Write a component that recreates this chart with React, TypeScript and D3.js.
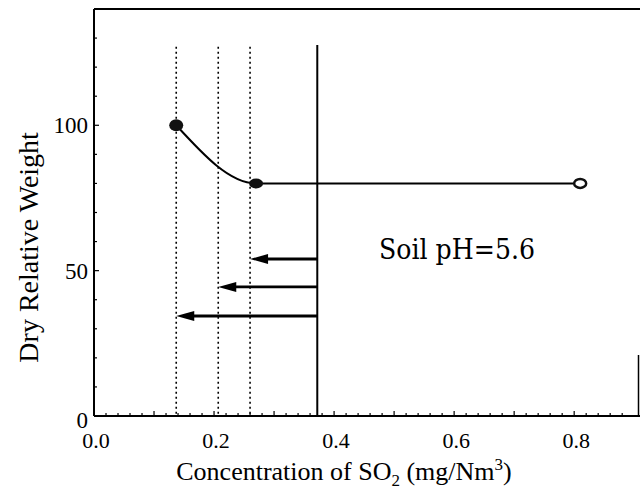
import React from "react";
import * as d3 from "d3";

// measured points on the dose-response curve
const concentrations = [0.137, 0.27, 0.81];
const relWeights = [100, 80, 80];

// dotted threshold lines and the solid limit line
const thresholds = [0.137, 0.207, 0.26];
const limitConc = 0.372;

// arrows pointing from the limit back to each threshold
const arrowLevels = [54, 44.4, 34.4];
const arrowTargets = [0.26, 0.207, 0.137];

const xTickLabels = [0, 0.2, 0.4, 0.6, 0.8];
const yTickLabels = [0, 50, 100];

const W = 640;
const H = 493;
const margin = { left: 94, top: 9, right: 1, bottom: 77 };

export default function App() {
  const x = d3.scaleLinear().domain([0, 0.908]).range([margin.left, W - margin.right]);
  const y = d3.scaleLinear().domain([0, 140]).range([H - margin.bottom, margin.top]);

  const pts: [number, number][] = concentrations.map((c, i) => [c, relWeights[i]]);
  const line = d3
    .line<[number, number]>()
    .x((d) => x(d[0]))
    .y((d) => y(d[1]))
    .curve(d3.curveMonotoneX);

  const minorX = d3.range(0, 0.9, 0.02);
  const minorY = d3.range(0, 131, 10);
  const serif = "'Liberation Serif', 'DejaVu Serif', serif";
  const x0 = x(0);
  const y0 = y(0);

  return (
    <svg
      width={W}
      height={H}
      style={{ position: "absolute", left: 0, top: 0, background: "#fff" }}
    >
      {/* frame */}
      <line x1={x0} y1={margin.top} x2={W} y2={margin.top} stroke="#000" strokeWidth={2} />
      <line x1={x0} y1={margin.top} x2={x0} y2={y0} stroke="#000" strokeWidth={2} />
      <line x1={x0} y1={y0} x2={W} y2={y0} stroke="#000" strokeWidth={2} />
      <line x1={W - 1.5} y1={355} x2={W - 1.5} y2={y0} stroke="#000" strokeWidth={1.5} />

      {/* ticks, pointing inward */}
      {minorX.map((v, i) => (
        <line
          key={"mx" + i}
          x1={x(v)}
          x2={x(v)}
          y1={y0}
          y2={y0 - (i % 5 === 0 ? 5 : 3)}
          stroke="#000"
          strokeWidth={1.2}
        />
      ))}
      {minorY.map((v, i) => (
        <line
          key={"my" + i}
          x1={x0}
          x2={x0 + (i % 5 === 0 ? 5 : 3)}
          y1={y(v)}
          y2={y(v)}
          stroke="#000"
          strokeWidth={1.2}
        />
      ))}

      {/* tick labels */}
      {xTickLabels.map((v) => (
        <text
          key={"xt" + v}
          x={x(v) + 2}
          y={y0 + 32}
          textAnchor="middle"
          fontFamily={serif}
          fontSize={22}
        >
          {v.toFixed(1)}
        </text>
      ))}
      {yTickLabels.map((v) => (
        <text
          key={"yt" + v}
          x={x0 - 6}
          y={y(v) + (v === 0 ? 12 : 8)}
          textAnchor="end"
          fontFamily={serif}
          fontSize={23}
        >
          {v}
        </text>
      ))}

      {/* axis titles */}
      <text x={344} y={480} textAnchor="middle" fontFamily={serif} fontSize={26}>
        Concentration of SO
        <tspan fontSize={17} dy={6}>2</tspan>
        <tspan dy={-6}> (mg/Nm</tspan>
        <tspan fontSize={17} dy={-10}>3</tspan>
        <tspan dy={10}>)</tspan>
      </text>
      <text
        transform={`translate(38, ${y(58)}) rotate(-90)`}
        textAnchor="middle"
        fontFamily={serif}
        fontSize={28}
      >
        Dry Relative Weight
      </text>

      {/* dotted thresholds */}
      {thresholds.map((t) => (
        <line
          key={"th" + t}
          x1={x(t)}
          x2={x(t)}
          y1={y(127)}
          y2={y0}
          stroke="#000"
          strokeWidth={1.6}
          strokeDasharray="2,3"
        />
      ))}
      <line x1={x(limitConc)} x2={x(limitConc)} y1={y(127.6)} y2={y0} stroke="#000" strokeWidth={2} />

      {/* arrows */}
      {arrowLevels.map((lv, i) => {
        const xs = x(limitConc);
        const xe = x(arrowTargets[i]);
        const yy = y(lv);
        return (
          <g key={"ar" + i}>
            <line x1={xs} x2={xe + 12} y1={yy} y2={yy} stroke="#000" strokeWidth={2.8} />
            <path d={`M${xe},${yy} L${xe + 18},${yy - 5} L${xe + 18},${yy + 5} Z`} fill="#000" />
          </g>
        );
      })}

      {/* curve */}
      <path d={line(pts) ?? ""} fill="none" stroke="#000" strokeWidth={2} />
      <ellipse cx={x(concentrations[0])} cy={y(relWeights[0])} rx={7} ry={6} fill="#111" />
      <ellipse cx={x(concentrations[1])} cy={y(relWeights[1])} rx={7} ry={5} fill="#111" />
      <ellipse
        cx={x(concentrations[2])}
        cy={y(relWeights[2])}
        rx={6}
        ry={4.5}
        fill="#fff"
        stroke="#111"
        strokeWidth={2.5}
      />

      <text
        x={379}
        y={259}
        fontFamily="'DejaVu Serif', serif"
        fontSize={28}
        textLength={156}
        lengthAdjust="spacingAndGlyphs"
      >
        Soil pH=5.6
      </text>
    </svg>
  );
}
